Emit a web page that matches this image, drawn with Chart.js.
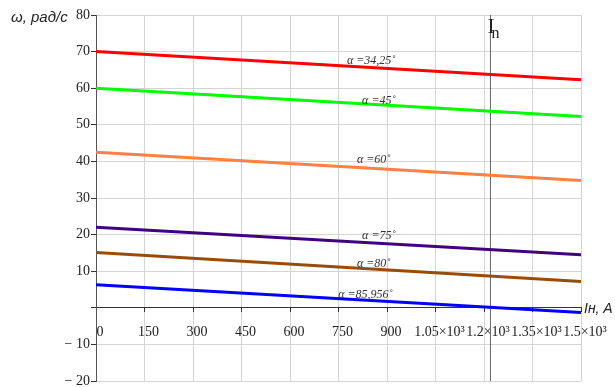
<!DOCTYPE html>
<html>
<head>
<meta charset="utf-8">
<script src="https://cdn.jsdelivr.net/npm/chart.js@4"></script>
<style>
html,body{margin:0;padding:0;background:#fff;}
#wrap{width:615px;height:387px;position:relative;}
</style>
</head>
<body>
<div id="wrap"><canvas id="c" width="615" height="387"></canvas></div>
<script>
// ---- data ----
const currentI = [0, 1500];                 // Iн, A
const omegaA34 = [70.0, 62.3];              // α = 34,25°
const omegaA45 = [60.0, 52.3];              // α = 45°
const omegaA60 = [42.5, 34.8];              // α = 60°
const omegaA75 = [22.0, 14.5];              // α = 75°
const omegaA80 = [15.1, 7.2];               // α = 80°
const omegaA86 = [6.3, -1.3];               // α = 85,956°
const seriesNames = ['α =34,25˚', 'α =45˚', 'α =60˚', 'α =75˚', 'α =80˚', 'α =85,956˚'];
const nominalI = 1220;                      // In marker
const xTickValues = [0,150,300,450,600,750,900,1050,1200,1350,1500];
const xTickLabels = ['0','150','300','450','600','750','900','1.05×10³','1.2×10³','1.35×10³','1.5×10³'];
const yTickValues = [-20,-10,0,10,20,30,40,50,60,70,80];
const yTickLabels = ['− 20','− 10','','10','20','30','40','50','60','70','80'];

const colors = ['#ff0000','#00ff00','#ff8040','#400080','#9a4c06','#0000ff'];
const allSeries = [omegaA34, omegaA45, omegaA60, omegaA75, omegaA80, omegaA86];

function pts(ys){ return currentI.map((x,i)=>({x:x, y:ys[i]})); }

const datasets = allSeries.map((s,i)=>({
  label: seriesNames[i],
  data: pts(s),
  borderColor: colors[i],
  borderWidth: 3,
  pointRadius: 0,
  fill: false,
  tension: 0
}));
datasets.push({
  label: 'In',
  data: [{x:nominalI, y:-20},{x:nominalI, y:80}],
  borderColor: '#666',
  borderWidth: 1,
  pointRadius: 0,
  fill: false
});

// label anchor positions (data coords) for the α annotations
const labelAnchors = [[776,66.6],[823,55.7],[807,39.6],[823,18.8],[807,11.2],[749,2.7]];

const textPlugin = {
  id: 'texts',
  afterDatasetsDraw(chart){
    const ctx = chart.ctx, xs = chart.scales.x, ys = chart.scales.y;
    ctx.save();
    ctx.fillStyle = '#333';
    ctx.textBaseline = 'alphabetic';
    ctx.textAlign = 'left';
    ctx.font = 'italic 12px "Liberation Serif"';
    seriesNames.forEach((n,i)=>{
      ctx.fillText(n, xs.getPixelForValue(labelAnchors[i][0]), ys.getPixelForValue(labelAnchors[i][1]));
    });
    // axis titles
    ctx.fillStyle = '#222';
    ctx.font = 'italic 15px "Liberation Sans"';
    ctx.fillText('ω, рад/с', 11, 22);
    ctx.font = 'italic 14px "Liberation Sans"';
    ctx.fillText('Iн, A', xs.right + 3, ys.getPixelForValue(0) + 5);
    // In marker label
    const xi = xs.getPixelForValue(nominalI);
    ctx.font = '21px "Liberation Serif"';
    ctx.fillText('I', xi - 3, 33);
    ctx.font = '16px "Liberation Serif"';
    ctx.fillText('n', xi + 1, 38);
    ctx.restore();
  }
};

new Chart(document.getElementById('c'), {
  type: 'line',
  data: { datasets },
  options: {
    responsive: false,
    animation: false,
    events: [],
    layout: { padding: { left: 0, right: 34, top: 15, bottom: 6 } },
    plugins: { legend: { display: false }, tooltip: { enabled: false } },
    scales: {
      x: {
        type: 'linear',
        position: { y: 0 },
        min: 0, max: 1500,
        afterBuildTicks(s){ s.ticks = xTickValues.map(v=>({value:v})); },
        afterFit(s){ s.paddingLeft = 0; s.paddingRight = 0; },
        ticks: {
          autoSkip: false, maxRotation: 0,
          labelOffset: 4,
          padding: 12,
          color: '#222',
          font: { family: 'Liberation Serif', size: 14 },
          callback(v){ const i = xTickValues.indexOf(v); return i >= 0 ? xTickLabels[i] : ''; }
        },
        grid: { color: '#d4d4d4', lineWidth: 1, tickLength: 4, tickColor: '#333' },
        border: { color: '#333', width: 1 }
      },
      y: {
        type: 'linear',
        position: 'left',
        min: -20, max: 80,
        afterBuildTicks(s){ s.ticks = yTickValues.map(v=>({value:v})); },
        afterFit(s){ s.width = 96; s.paddingTop = 0; s.paddingBottom = 0; },
        ticks: {
          autoSkip: false,
          padding: 1,
          color: '#222',
          font: { family: 'Liberation Serif', size: 14 },
          callback(v){ const i = yTickValues.indexOf(v); return i >= 0 ? yTickLabels[i] : ''; }
        },
        grid: { color: '#d4d4d4', lineWidth: 1, tickLength: 5, tickColor: '#333' },
        border: { color: '#555', width: 1 }
      }
    }
  },
  plugins: [textPlugin]
});
</script>
</body>
</html>
